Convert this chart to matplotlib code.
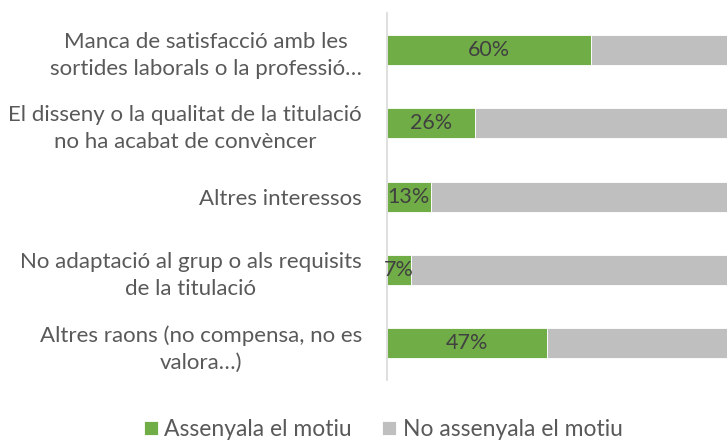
import matplotlib
matplotlib.use("Agg")
import matplotlib.pyplot as plt
import numpy as np

categories = [
    "Manca de satisfacció amb les\nsortides laborals o la professió…",
    "El disseny o la qualitat de la titulació\nno ha acabat de convèncer",
    "Altres interessos",
    "No adaptació al grup o als requisits\nde la titulació",
    "Altres raons (no compensa, no es\nvalora…)",
]
assenyala = [60, 26, 13, 7, 47]
no_assenyala = [40, 74, 87, 93, 53]
series_names = ["Assenyala el motiu", "No assenyala el motiu"]

GREEN = "#70AD47"
GREY = "#BFBFBF"
TEXT = "#595959"

plt.rcParams["font.family"] = ["Lato", "DejaVu Sans"]

fig = plt.figure(figsize=(7.27, 4.41), dpi=100)
ax = fig.add_axes([0.532, 0.138, 0.468, 0.8325])

y = np.arange(len(categories))
h = 0.41
b1 = ax.barh(y, assenyala, height=h, color=GREEN, edgecolor="white", linewidth=0.6,
             label=series_names[0])
b2 = ax.barh(y, no_assenyala, left=assenyala, height=h, color=GREY, edgecolor="white",
             linewidth=0.6, label=series_names[1])

for yi, v in zip(y, assenyala):
    ax.text(v / 2, yi, f"{v}%", ha="center", va="center", fontsize=15.5, color="#404040")

ax.set_xlim(0, 100)
ax.set_ylim(len(categories) - 0.5, -0.5)
ax.set_yticks(y)
ax.set_yticklabels(categories, fontsize=16, color=TEXT, multialignment="center",
                   linespacing=1.45)
ax.tick_params(axis="y", length=0, pad=18)
ax.set_xticks([])
for s in ["top", "right", "bottom"]:
    ax.spines[s].set_visible(False)
ax.spines["left"].set_color("#D9D9D9")
ax.spines["left"].set_linewidth(1.2)

leg = fig.legend(handles=[b1, b2], labels=series_names, loc="center",
                 bbox_to_anchor=(0.527, 0.026), ncol=2, frameon=False,
                 fontsize=16.5, handlelength=0.6, handleheight=0.6,
                 handletextpad=0.3, columnspacing=1.3, borderaxespad=0)
for t in leg.get_texts():
    t.set_color(TEXT)

fig.savefig("out.png", dpi=100)
